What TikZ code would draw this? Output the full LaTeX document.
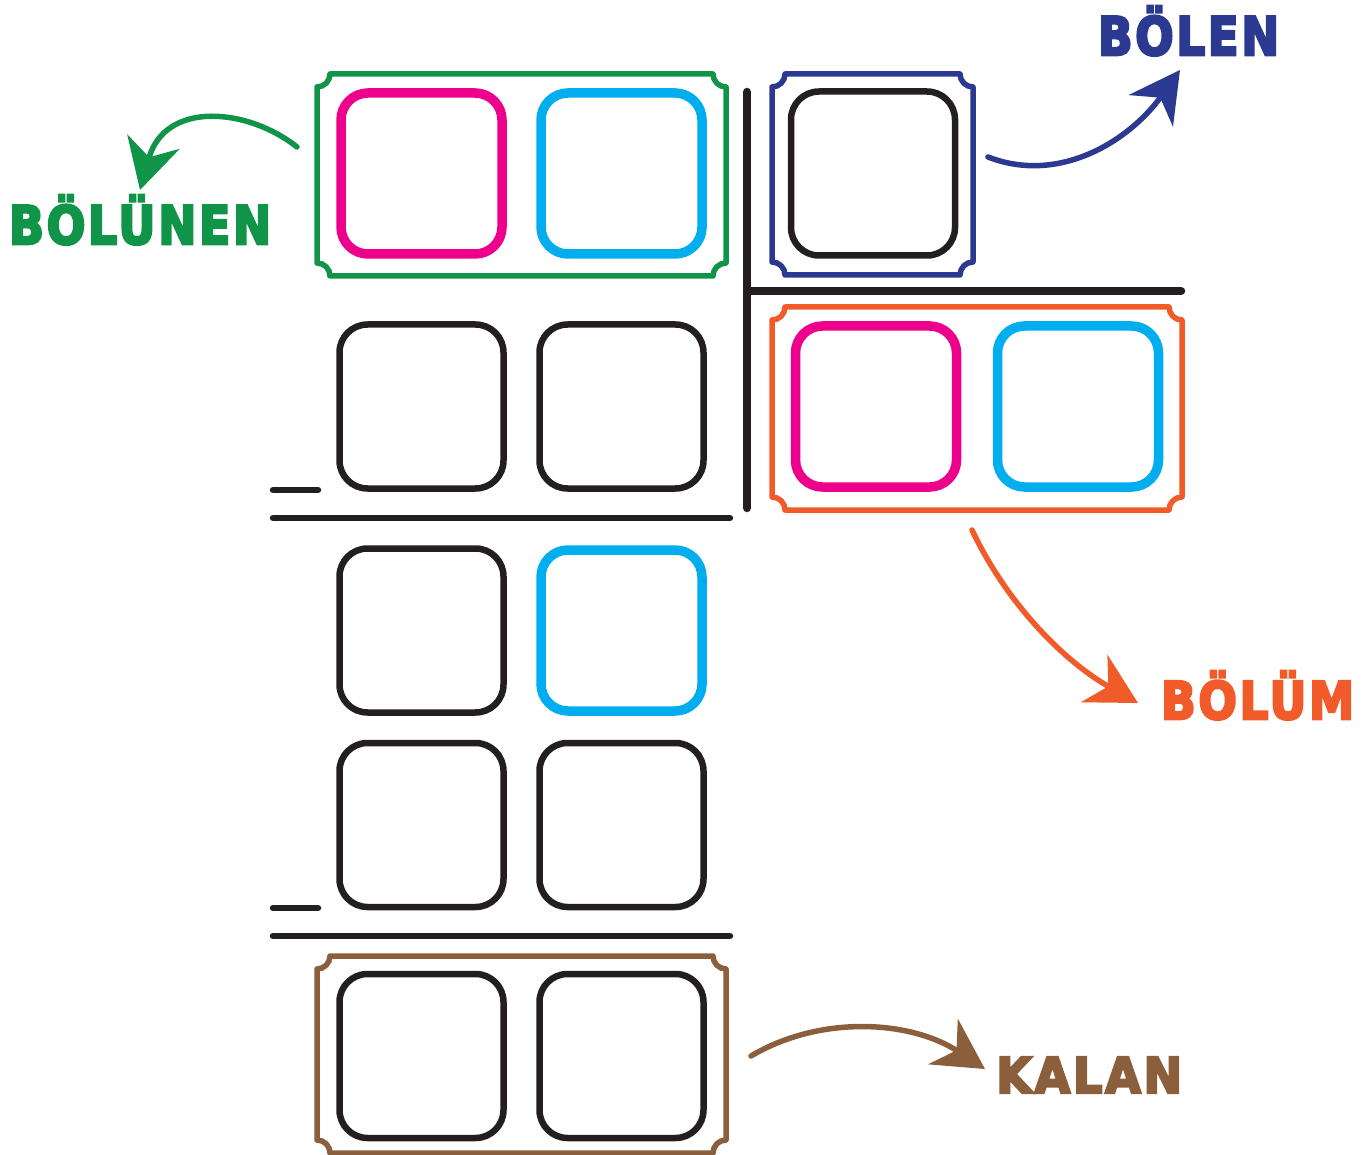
\documentclass[tikz,border=0pt]{standalone}
\usepackage{fontspec}
\usepackage{graphicx}
\newfontfamily\lblfont{DejaVu Sans}[BoldFeatures={FakeBold=5}, LetterSpace=6]
\usetikzlibrary{arrows.meta}
\definecolor{cgreen}{RGB}{16,148,71}
\definecolor{cmag}{RGB}{236,0,140}
\definecolor{ccyan}{RGB}{0,174,239}
\definecolor{cnavy}{RGB}{43,57,144}
\definecolor{corange}{RGB}{241,90,41}
\definecolor{cbrown}{RGB}{139,94,60}
\definecolor{cblack}{RGB}{35,31,32}
\newcommand\scframe[5]{%
  \draw[frameline,#5] ({#1+13},#2) -- ({#3-13},#2)
    .. controls ({#3-13},{#2+7.2}) and ({#3-7.2},{#2+13}) .. (#3,{#2+13})
    -- (#3,{#4-13})
    .. controls ({#3-7.2},{#4-13}) and ({#3-13},{#4-7.2}) .. ({#3-13},#4)
    -- ({#1+13},#4)
    .. controls ({#1+13},{#4-7.2}) and ({#1+7.2},{#4-13}) .. (#1,{#4-13})
    -- (#1,{#2+13})
    .. controls ({#1+7.2},{#2+13}) and ({#1+13},{#2+7.2}) .. cycle;}
\tikzset{
  frameline/.style={line width=5.5pt, line join=round},
  bbox/.style={draw=cblack, line width=6.5pt, rounded corners=28pt,
    minimum width=164pt, minimum height=164pt, inner sep=0pt},
  cbox/.style={draw=#1, line width=9.5pt, rounded corners=27pt,
    minimum width=161pt, minimum height=161pt, inner sep=0pt},
  sepline/.style={draw=cblack, line width=6.5pt, line cap=round},
  divline/.style={draw=cblack, line width=8.5pt, line cap=round},
  lbl/.style={anchor=base west, inner sep=0pt, font=\lblfont\bfseries},
  arr/.style={draw=#1, line width=5.5pt, line cap=round,
    -{Stealth[length=50pt, width=54pt, inset=16pt, fill=#1]}}
}
\begin{document}
\begin{tikzpicture}[x=1pt, y=-1pt]
\useasboundingbox (0,0) rectangle (1371,1155);
% frames
\scframe{317}{74}{726}{276}{cgreen}
\scframe{772}{74}{973}{275}{cnavy}
\scframe{772}{307}{1182}{510}{corange}
\scframe{317}{956}{726}{1153}{cbrown}
% division lines
\draw[divline] (747,92) -- (747,508);
\draw[divline] (750,291) -- (1181,291);
% subtraction lines
\draw[sepline] (273,490) -- (318,490);
\draw[sepline] (273,518) -- (730,518);
\draw[sepline] (273,908) -- (318,908);
\draw[sepline] (273,936) -- (730,936);
% boxes
\node[cbox=cmag]  (d1) at (421.5,173.5) {};
\node[cbox=ccyan] (d2) at (621.5,173.5) {};
\node[bbox]       (s1) at (873,173.5) {};
\node[cbox=cmag]  (q1) at (876,406.5) {};
\node[cbox=ccyan] (q2) at (1078,406.5) {};
\node[bbox] (r2a) at (421.5,406.5) {};
\node[bbox] (r2b) at (621.5,406.5) {};
\node[bbox] (r3a) at (421.5,630.5) {};
\node[cbox=ccyan] (r3b) at (621.5,630.5) {};
\node[bbox] (r4a) at (421.5,825) {};
\node[bbox] (r4b) at (621.5,825) {};
\node[bbox] (r5a) at (421.5,1056) {};
\node[bbox] (r5b) at (621.5,1056) {};
% labels
\node[lbl, text=cgreen] (lbolunen) at (9,244) {\resizebox{262pt}{49pt}{BÖLÜNEN}};
\node[lbl, text=cnavy] (lbolen) at (1098,55) {\resizebox{181pt}{49pt}{BÖLEN}};
\node[lbl, text=corange] (lbolum) at (1161,719) {\resizebox{193pt}{48pt}{BÖLÜM}};
\node[lbl, text=cbrown] (lkalan) at (996,1093) {\resizebox{186pt}{36pt}{KALAN}};
% arrows
\coordinate (ga) at (297,147); \coordinate (gb) at (140,190);
\coordinate (na) at (988,157); \coordinate (nb) at (1180,70);
\coordinate (oa) at (972,530); \coordinate (ob) at (1138,703);
\coordinate (ba) at (751,1056); \coordinate (bb) at (985,1069);
\draw[arr=cgreen] (ga) .. controls (248,108) and (165,100) .. (gb);
\draw[arr=cnavy] (na) .. controls (1060,185) and (1130,140) .. (nb);
\draw[arr=corange] (oa) .. controls (1010,610) and (1070,665) .. (ob);
\draw[arr=cbrown] (ba) .. controls (820,1015) and (910,1020) .. (bb);
\end{tikzpicture}
\end{document}
